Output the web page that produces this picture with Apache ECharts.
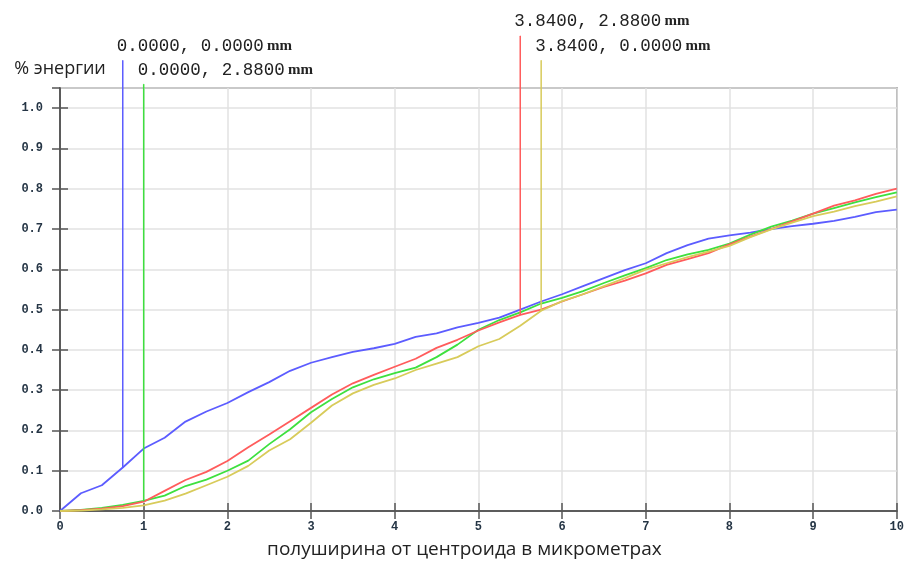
<!DOCTYPE html>
<html>
<head>
<meta charset="utf-8">
<script src="https://cdn.jsdelivr.net/npm/echarts@6/dist/echarts.min.js"></script>
<style>
html, body { margin: 0; padding: 0; background: #fff; }
#container { width: 907px; height: 564px; }
</style>
</head>
<body>
<div id="container"></div>
<script>
// радиус (мкм)
var xs = [0, 0.25, 0.5, 0.75, 1, 1.25, 1.5, 1.75, 2, 2.25, 2.5, 2.75, 3, 3.25, 3.5, 3.75, 4, 4.25, 4.5, 4.75,
  5, 5.25, 5.5, 5.75, 6, 6.25, 6.5, 6.75, 7, 7.25, 7.5, 7.75, 8, 8.25, 8.5, 8.75, 9, 9.25, 9.5, 9.75, 10];

// доля энергии для каждого поля
var blueVals = [0, 0.044, 0.064, 0.108, 0.155, 0.182, 0.222, 0.247, 0.268, 0.295, 0.32, 0.348, 0.368, 0.382, 0.395, 0.404,
  0.415, 0.432, 0.441, 0.456, 0.467, 0.48, 0.5, 0.52, 0.538, 0.558, 0.578, 0.598, 0.615, 0.64, 0.66,
  0.676, 0.684, 0.691, 0.7, 0.707, 0.713, 0.72, 0.73, 0.742, 0.748];
var greenVals = [0, 0.003, 0.008, 0.015, 0.025, 0.038, 0.062, 0.078, 0.1, 0.125, 0.166, 0.203, 0.245, 0.278, 0.307, 0.327,
  0.342, 0.356, 0.382, 0.413, 0.45, 0.474, 0.493, 0.515, 0.529, 0.546, 0.566, 0.585, 0.603, 0.623, 0.637,
  0.648, 0.664, 0.686, 0.706, 0.721, 0.738, 0.752, 0.766, 0.779, 0.791];
var redVals = [0, 0.002, 0.006, 0.012, 0.023, 0.05, 0.077, 0.097, 0.124, 0.158, 0.19, 0.223, 0.256, 0.289, 0.317, 0.338,
  0.358, 0.378, 0.405, 0.425, 0.448, 0.468, 0.487, 0.5, 0.52, 0.538, 0.556, 0.572, 0.59, 0.611, 0.625,
  0.64, 0.662, 0.681, 0.7, 0.719, 0.738, 0.758, 0.771, 0.787, 0.8];
var yellowVals = [0, 0.001, 0.004, 0.008, 0.014, 0.026, 0.043, 0.064, 0.085, 0.112, 0.15, 0.178, 0.219, 0.262, 0.292, 0.313,
  0.329, 0.35, 0.366, 0.382, 0.409, 0.427, 0.46, 0.497, 0.521, 0.538, 0.558, 0.578, 0.599, 0.615, 0.63,
  0.644, 0.658, 0.68, 0.699, 0.716, 0.732, 0.743, 0.757, 0.768, 0.781];

// маркеры полей
var fieldNames = ['0.0000, 0.0000', '0.0000, 2.8800', '3.8400, 2.8800', '3.8400, 0.0000'];
var markerX = [0.75, 1.0, 5.5, 5.75];
var markerEnd = [0.108, 0.025, 0.487, 0.497];
var markerTop = [1.118, 1.059, 1.179, 1.118];

var colors = ['#5c5cff', '#3ee03e', '#ff5c5c', '#d8cb5a'];
var curves = [blueVals, greenVals, redVals, yellowVals];

var chart = echarts.init(document.getElementById('container'));

var axisColor = '#555';
var labelStyle = { fontFamily: 'Liberation Mono', fontWeight: 'bold', fontSize: 12, color: '#253545' };

var series = [];
curves.forEach(function (vals, i) {
  series.push({
    type: 'line',
    data: xs.map(function (x, k) { return [x, vals[k]]; }),
    showSymbol: false,
    silent: true,
    lineStyle: { color: colors[i], width: 1.8 },
    z: 3
  });
});
// вертикальные линии-маркеры с подписями
markerX.forEach(function (x, i) {
  series.push({
    type: 'line',
    clip: false,
    silent: true,
    symbol: 'circle',
    symbolSize: 1,
    showSymbol: true,
    itemStyle: { color: colors[i] },
    lineStyle: { color: colors[i], width: 1.5 },
    data: [
      { value: [x, markerEnd[i]], label: { show: false } },
      { value: [x, markerTop[i]], label: {
          show: true, position: 'top', align: 'left', distance: 5, offset: [-6, 0],
          formatter: '{n|' + fieldNames[i] + '} {u|mm}',
          rich: {
            n: { fontFamily: 'Liberation Mono', fontSize: 17.5, color: '#222' },
            u: { fontFamily: 'Liberation Serif', fontWeight: 'bold', fontSize: 15, color: '#222' }
          }
      } }
    ],
    z: 4
  });
});

option = {
  animation: false,
  grid: { left: 60, right: 7, top: 88, bottom: 48, show: true, borderColor: axisColor, borderWidth: 1.5 },
  xAxis: [{
    type: 'value', min: 0, max: 10, interval: 1, position: 'bottom',
    name: 'полуширина от центроида в микрометрах', nameLocation: 'middle', nameGap: 29,
    nameTextStyle: { fontFamily: 'Open Sans', fontSize: 19, color: '#222', padding: [0, 28, 0, 0] },
    axisLine: { show: true, lineStyle: { color: axisColor, width: 1.5 } },
    axisTick: { show: true, inside: true, length: 8, lineStyle: { color: axisColor, width: 1.5 } },
    axisLabel: Object.assign({ margin: 10 }, labelStyle),
    splitLine: { show: true, lineStyle: { color: '#e2e2e2', width: 1.5 } }
  }, {
    type: 'value', min: 0, max: 10, interval: 1, position: 'top',
    axisLine: { show: true, lineStyle: { color: axisColor, width: 1.5 } },
    axisTick: { show: true, inside: true, length: 8, lineStyle: { color: axisColor, width: 1.5 } },
    axisLabel: { show: false }, splitLine: { show: false }
  }],
  yAxis: [{
    type: 'value', min: 0, max: 1.05, interval: 0.1, position: 'left',
    name: '% энергии', nameLocation: 'end', nameGap: 10,
    nameTextStyle: { fontFamily: 'Open Sans', fontSize: 18, color: '#222' },
    axisLine: { show: true, lineStyle: { color: axisColor, width: 1.5 } },
    axisTick: { show: true, inside: true, length: 8, lineStyle: { color: axisColor, width: 1.5 } },
    axisLabel: Object.assign({
      margin: 17, showMaxLabel: false,
      formatter: function (v) { return Math.abs(v * 10 - Math.round(v * 10)) < 1e-6 ? v.toFixed(1) : ''; }
    }, labelStyle),
    splitLine: { show: true, lineStyle: { color: '#e2e2e2', width: 1.5 } }
  }, {
    type: 'value', min: 0, max: 1.05, interval: 0.1, position: 'right',
    axisLine: { show: true, lineStyle: { color: axisColor, width: 1.5 } },
    axisTick: { show: true, inside: true, length: 8, lineStyle: { color: axisColor, width: 1.5 } },
    axisLabel: { show: false }, splitLine: { show: false }
  }],
  series: series
};

chart.setOption(option);
</script>
</body>
</html>
